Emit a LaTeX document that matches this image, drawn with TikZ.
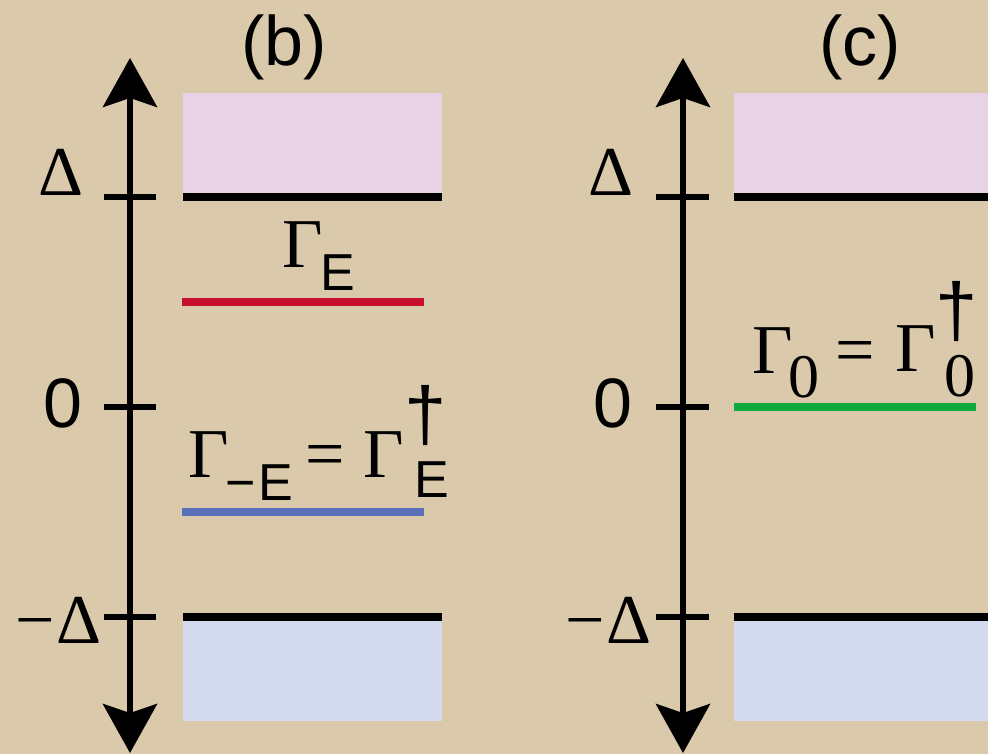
\documentclass[tikz,border=0pt]{standalone}
\usepackage{fontspec}
\usetikzlibrary{arrows.meta}
\newfontfamily\serifG{Liberation Serif}
\newfontfamily\sansF{Liberation Sans}
\newcommand\gfont{\serifG\fontsize{70}{80}\selectfont}
\newcommand\gsubfont{\serifG\fontsize{62}{70}\selectfont}
\newcommand\sfontbig{\sansF\fontsize{70}{80}\selectfont}
\newcommand\sfont{\sansF\fontsize{52}{60}\selectfont}
\newcommand\dfont{\sansF\fontsize{76}{86}\selectfont}
\newcommand\putat[3]{\makebox[0pt][l]{\hspace*{#1}\raisebox{#2}{#3}}}
\definecolor{paper}{RGB}{218,201,170}
\definecolor{bandpink}{RGB}{232,210,229}
\definecolor{bandblue}{RGB}{212,218,237}
\definecolor{levred}{RGB}{200,14,46}
\definecolor{levblue}{RGB}{92,112,186}
\definecolor{levgreen}{RGB}{16,170,60}
\tikzset{
  axisline/.style={line width=6pt,
    {Stealth[length=49pt,width=54pt,inset=9pt]}-{Stealth[length=49pt,width=54pt,inset=9pt]}},
  tickline/.style={line width=6pt},
  edgeline/.style={line width=8pt},
  levelline/.style={line width=8pt},
  lbl/.style={inner sep=0pt, anchor=base west},
  ttl/.style={inner sep=0pt, anchor=base, font=\sfontbig},
}
\begin{document}
\begin{tikzpicture}[x=1pt,y=-1pt]
\useasboundingbox (0,0) rectangle (988,754);
\fill[paper] (0,0) rectangle (988,754);

% ---------- panel (b) ----------
\fill[bandpink] (183,93) rectangle (442,197);
\fill[bandblue] (183,617) rectangle (442,721);
\draw[edgeline] (183,197) -- (442,197);
\draw[edgeline] (183,617) -- (442,617);
\draw[levelline, levred] (182,302) -- (424,302);
\draw[levelline, levblue] (182,512) -- (424,512);
\coordinate (btop) at (130,58);
\coordinate (bbot) at (130,753);
\draw[axisline] (bbot) -- (btop);
\draw[tickline] (104,197) -- (156,197);
\draw[tickline] (104,407) -- (156,407);
\draw[tickline] (104,617) -- (156,617);
\node[ttl] (titleb) at (284,66) {(b)};
\node[lbl] (deltab) at (38,196) {\gfont Δ};
\node[lbl] (zerob) at (43,427) {\sfontbig 0};
\node[lbl] (mdeltab) at (15,643) {\gfont −\kern2ptΔ};
\node[lbl] (gammaE) at (282,267) {\putat{0pt}{0pt}{\gfont Γ}\putat{38pt}{-24pt}{\sfont E}};
\node[lbl] (gammamE) at (188,477) {%
  \putat{0pt}{0pt}{\gfont Γ}%
  \putat{37pt}{-23pt}{\sfont −\kern2ptE}%
  \putat{117pt}{0pt}{\gfont =}%
  \putat{175pt}{0pt}{\gfont Γ}%
  \putat{216pt}{36.5pt}{\dfont †}%
  \putat{226pt}{-20pt}{\sfont E}};

% ---------- panel (c) ----------
\fill[bandpink] (734,93) rectangle (988,197);
\fill[bandblue] (734,617) rectangle (988,721);
\draw[edgeline] (734,197) -- (988,197);
\draw[edgeline] (734,617) -- (988,617);
\draw[levelline, levgreen] (734,407) -- (976,407);
\coordinate (ctop) at (683,58);
\coordinate (cbot) at (683,753);
\draw[axisline] (cbot) -- (ctop);
\draw[tickline] (656,197) -- (709,197);
\draw[tickline] (656,407) -- (709,407);
\draw[tickline] (656,617) -- (709,617);
\node[ttl] (titlec) at (860,66) {(c)};
\node[lbl] (deltac) at (588,196) {\gfont Δ};
\node[lbl] (zeroc) at (593,427) {\sfontbig 0};
\node[lbl] (mdeltac) at (565,643) {\gfont −\kern2ptΔ};
\node[lbl] (gammazero) at (752,373) {%
  \putat{0pt}{0pt}{\gfont Γ}%
  \putat{36pt}{-24pt}{\gsubfont 0}%
  \putat{83pt}{0pt}{\gfont =}%
  \putat{143pt}{1.5pt}{\gfont Γ}%
  \putat{183pt}{36.5pt}{\dfont †}%
  \putat{192pt}{-23pt}{\gsubfont 0}};
\end{tikzpicture}
\end{document}
